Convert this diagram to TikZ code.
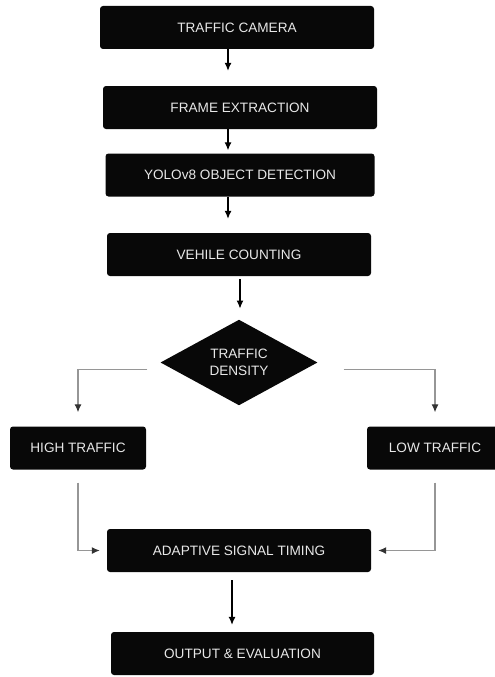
\documentclass[tikz,border=0pt]{standalone}
\usepackage{fontspec}
\setmainfont{Liberation Sans}
\usepackage{tikz}
\usetikzlibrary{arrows.meta,shapes.geometric}
\definecolor{cajaNegra}{RGB}{8, 8, 8}
\definecolor{gris}{RGB}{150, 150, 150}
\definecolor{texto}{RGB}{232, 232, 232}

\begin{document}
\begin{tikzpicture}[x=1pt,y=1pt,
    caja/.style={fill=cajaNegra,rounded corners=3pt,minimum height=43pt,inner sep=0pt,
      text=texto,font=\fontsize{13.6}{17}\selectfont},
    flecha/.style={draw=black,line width=1.1pt,-{Latex[length=8pt,width=7pt]}},
    rama/.style={draw=gris,line width=1.1pt,-{Latex[length=8pt,width=7pt,color=black!80]}}]
  \useasboundingbox (0,0) rectangle (495,-677);
  % cajas
  \foreach \n/\x/\y/\w/\t in {cam/237/27.5/274/TRAFFIC CAMERA,frame/240/107.5/274/FRAME EXTRACTION,
      yolo/240/175/269/YOLOv8 OBJECT DETECTION,count/239/254.5/264/VEHILE COUNTING,
      adapt/239/550.5/264/ADAPTIVE SIGNAL TIMING,out/242.5/653.5/263/OUTPUT \& EVALUATION,
      high/78/448/136/HIGH TRAFFIC,low/435/448/136/LOW TRAFFIC}
    \node[caja,minimum width=\w pt] (\n) at (\x,-\y) {\t};
  \node[diamond,fill=cajaNegra,minimum width=157pt,minimum height=79pt,inner sep=0pt,
    text=texto,align=center,font=\fontsize{13.6}{17}\selectfont] (dens) at (239,-362.5) {TRAFFIC\\DENSITY};
  % flechas
  \draw[flecha,shorten >=15pt] ([xshift=-9pt]cam.south) -- ([xshift=-12pt]frame.north);
  \draw[flecha,shorten >=3pt] ([xshift=-12pt]frame.south) -- ([xshift=-12pt]yolo.north);
  \draw[flecha,shorten >=14pt] ([xshift=-12pt]yolo.south) -- ([xshift=-11pt]count.north);
  \draw[flecha,shorten <=3pt,shorten >=11pt] ([xshift=1pt]count.south) -- ([xshift=1pt]dens.north);
  \draw[rama,shorten >=14pt] ([xshift=-13pt,yshift=-7pt]dens.west) -| (high.north);
  \draw[rama,shorten >=14pt] ([xshift=26pt,yshift=-7pt]dens.east) -| (low.north);
  \draw[rama,shorten <=13pt,shorten >=7pt] (high.south) |- (adapt.west);
  \draw[rama,shorten <=13pt,shorten >=7pt] (low.south) |- (adapt.east);
  \draw[flecha,shorten <=8pt,shorten >=7pt] ([xshift=-7pt]adapt.south) -- ([xshift=-10.5pt]out.north);
\end{tikzpicture}
\end{document}
